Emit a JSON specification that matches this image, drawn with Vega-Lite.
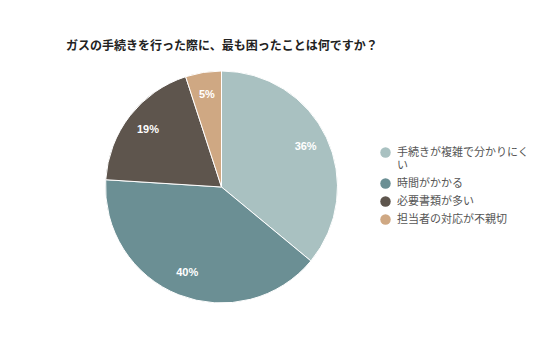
{
  "$schema": "https://vega.github.io/schema/vega-lite/v6.json",
  "width": 443,
  "height": 334,
  "autosize": "none",
  "padding": {"top": 20, "left": 0, "right": 93, "bottom": 3},
  "background": "white",
  "config": {"view": {"stroke": null}, "font": "Noto Sans CJK JP"},
  "title": {
    "text": "ガスの手続きを行った際に、最も困ったことは何ですか？",
    "anchor": "start",
    "frame": "group",
    "dx": 66,
    "dy": 37,
    "fontSize": 12,
    "fontWeight": "bold",
    "color": "#222222",
    "font": "Noto Sans CJK JP"
  },
  "data": {
    "values": [
      {"item": "手続きが複雑で分かりにくい", "share": 0.36, "order": 1},
      {"item": "時間がかかる", "share": 0.40, "order": 2},
      {"item": "必要書類が多い", "share": 0.19, "order": 3},
      {"item": "担当者の対応が不親切", "share": 0.05, "order": 4}
    ]
  },
  "encoding": {
    "theta": {"field": "share", "type": "quantitative", "stack": true},
    "order": {"field": "order", "type": "quantitative"},
    "color": {
      "field": "item",
      "type": "nominal",
      "sort": ["手続きが複雑で分かりにくい", "時間がかかる", "必要書類が多い", "担当者の対応が不親切"],
      "scale": {
        "domain": ["手続きが複雑で分かりにくい", "時間がかかる", "必要書類が多い", "担当者の対応が不親切"],
        "range": ["#a9c1c1", "#6b8f94", "#5e554d", "#cfa883"]
      },
      "legend": {
        "title": null,
        "orient": "none",
        "legendX": 380,
        "legendY": 127,
        "symbolType": "circle",
        "symbolSize": 110,
        "symbolStrokeWidth": 0,
        "labelFontSize": 11,
        "labelLineHeight": 14,
        "labelLimit": 200,
        "labelColor": "#555555",
        "labelFont": "Noto Sans CJK JP",
        "labelOffset": 6,
        "rowPadding": 6,
        "labelExpr": "datum.label == '手続きが複雑で分かりにくい' ? ['手続きが複雑で分かりにく', 'い'] : datum.label"
      }
    }
  },
  "layer": [
    {
      "mark": {"type": "arc", "outerRadius": 116, "stroke": "white", "strokeWidth": 1}
    },
    {
      "mark": {"type": "text", "radius": 93, "fontSize": 11, "fontWeight": "bold", "font": "Liberation Sans"},
      "encoding": {
        "text": {"field": "share", "type": "quantitative", "format": ".0%"},
        "color": {"value": "white"}
      }
    }
  ]
}
